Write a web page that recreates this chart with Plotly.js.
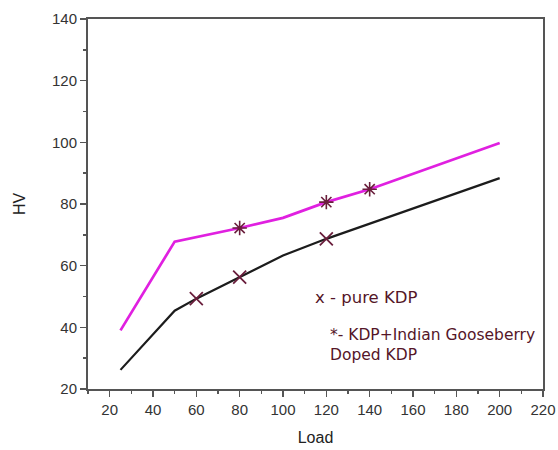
<!DOCTYPE html>
<html>
<head>
<meta charset="utf-8">
<script src="https://cdn.plot.ly/plotly-3.0.1.min.js"></script>
<style>
  html, body { margin: 0; padding: 0; background: #ffffff; }
  #chart { width: 558px; height: 450px; }
</style>
</head>
<body>
<div id="chart"></div>
<script>
// Vickers hardness (HV) against applied load
const pureLoad = [25, 50, 60, 80, 100, 120, 200];
const pureHV = [26.2, 45.4, 49.3, 56.3, 63.3, 68.7, 88.4];
const pureMarked = [60, 80, 120];

const dopedLoad = [25, 50, 80, 100, 120, 140, 200];
const dopedHV = [39.0, 67.8, 72.2, 75.5, 80.6, 84.8, 99.8];
const dopedMarked = [80, 120, 140];

const xTicks = [20, 40, 60, 80, 100, 120, 140, 160, 180, 200, 220];
const yTicks = [20, 40, 60, 80, 100, 120, 140];

const pureLabel = 'x - pure KDP';
const dopedLabel = '*- KDP+Indian Gooseberry<br>Doped KDP';

const markColor = '#6a1e3c';
const axisColor = '#555555';

// y value of a marked load, looked up in its series
const pick = (loads, vals, marks) => marks.map(m => vals[loads.indexOf(m)]);

const traces = [
  {
    x: dopedLoad, y: dopedHV, mode: 'lines', type: 'scatter',
    line: { color: '#e020e0', width: 2.7 }, hoverinfo: 'skip'
  },
  {
    x: pureLoad, y: pureHV, mode: 'lines', type: 'scatter',
    line: { color: '#1c1c1c', width: 2.2 }, hoverinfo: 'skip'
  },
  {
    x: dopedMarked, y: pick(dopedLoad, dopedHV, dopedMarked),
    mode: 'markers', type: 'scatter',
    marker: { symbol: 'asterisk-open', size: 12, color: markColor, line: { color: markColor, width: 1.6 } }
  },
  {
    x: pureMarked, y: pick(pureLoad, pureHV, pureMarked),
    mode: 'markers', type: 'scatter',
    marker: { symbol: 'x-thin-open', size: 13, color: markColor, line: { color: markColor, width: 1.8 } }
  }
];

const tickFont = { family: 'Liberation Sans, Arial, sans-serif', size: 15, color: '#333333' };
const noteColor = '#551628';

const layout = {
  width: 558, height: 450,
  margin: { l: 88, r: 15, t: 19, b: 61 },
  paper_bgcolor: '#ffffff', plot_bgcolor: '#ffffff',
  showlegend: false,
  xaxis: {
    range: [10, 220], tickvals: xTicks, ticktext: xTicks.map(String),
    showgrid: false, zeroline: false,
    showline: true, mirror: true, linecolor: axisColor, linewidth: 2,
    ticks: 'outside', ticklen: 6, tickwidth: 1.5, tickcolor: axisColor,
    minor: { dtick: 10, tick0: 0, ticks: 'outside', ticklen: 3, tickwidth: 1.5, tickcolor: axisColor },
    tickfont: tickFont,
    title: { text: 'Load', font: { family: 'Liberation Sans, Arial, sans-serif', size: 16, color: '#222222' }, standoff: 15 }
  },
  yaxis: {
    range: [20, 140], tickvals: yTicks, ticktext: yTicks.map(String),
    showgrid: false, zeroline: false,
    showline: true, mirror: true, linecolor: axisColor, linewidth: 2,
    ticks: 'outside', ticklen: 6, tickwidth: 1.5, tickcolor: axisColor,
    minor: { dtick: 10, tick0: 0, ticks: 'outside', ticklen: 3, tickwidth: 1.5, tickcolor: axisColor },
    tickfont: tickFont,
    title: { text: 'HV', font: { family: 'Liberation Sans, Arial, sans-serif', size: 16, color: '#222222' }, standoff: 22 }
  },
  annotations: [
    {
      xref: 'paper', yref: 'paper', x: 0.495, y: 0.247, xanchor: 'left', yanchor: 'middle',
      text: pureLabel, showarrow: false,
      font: { family: 'DejaVu Sans, sans-serif', size: 16.5, color: noteColor }
    },
    {
      xref: 'paper', yref: 'paper', x: 0.528, y: 0.12, xanchor: 'left', yanchor: 'middle', align: 'left',
      text: dopedLabel, showarrow: false,
      font: { family: 'DejaVu Sans, sans-serif', size: 15.5, color: noteColor }
    }
  ]
};

Plotly.newPlot('chart', traces, layout, { displayModeBar: false, staticPlot: true });
</script>
</body>
</html>
